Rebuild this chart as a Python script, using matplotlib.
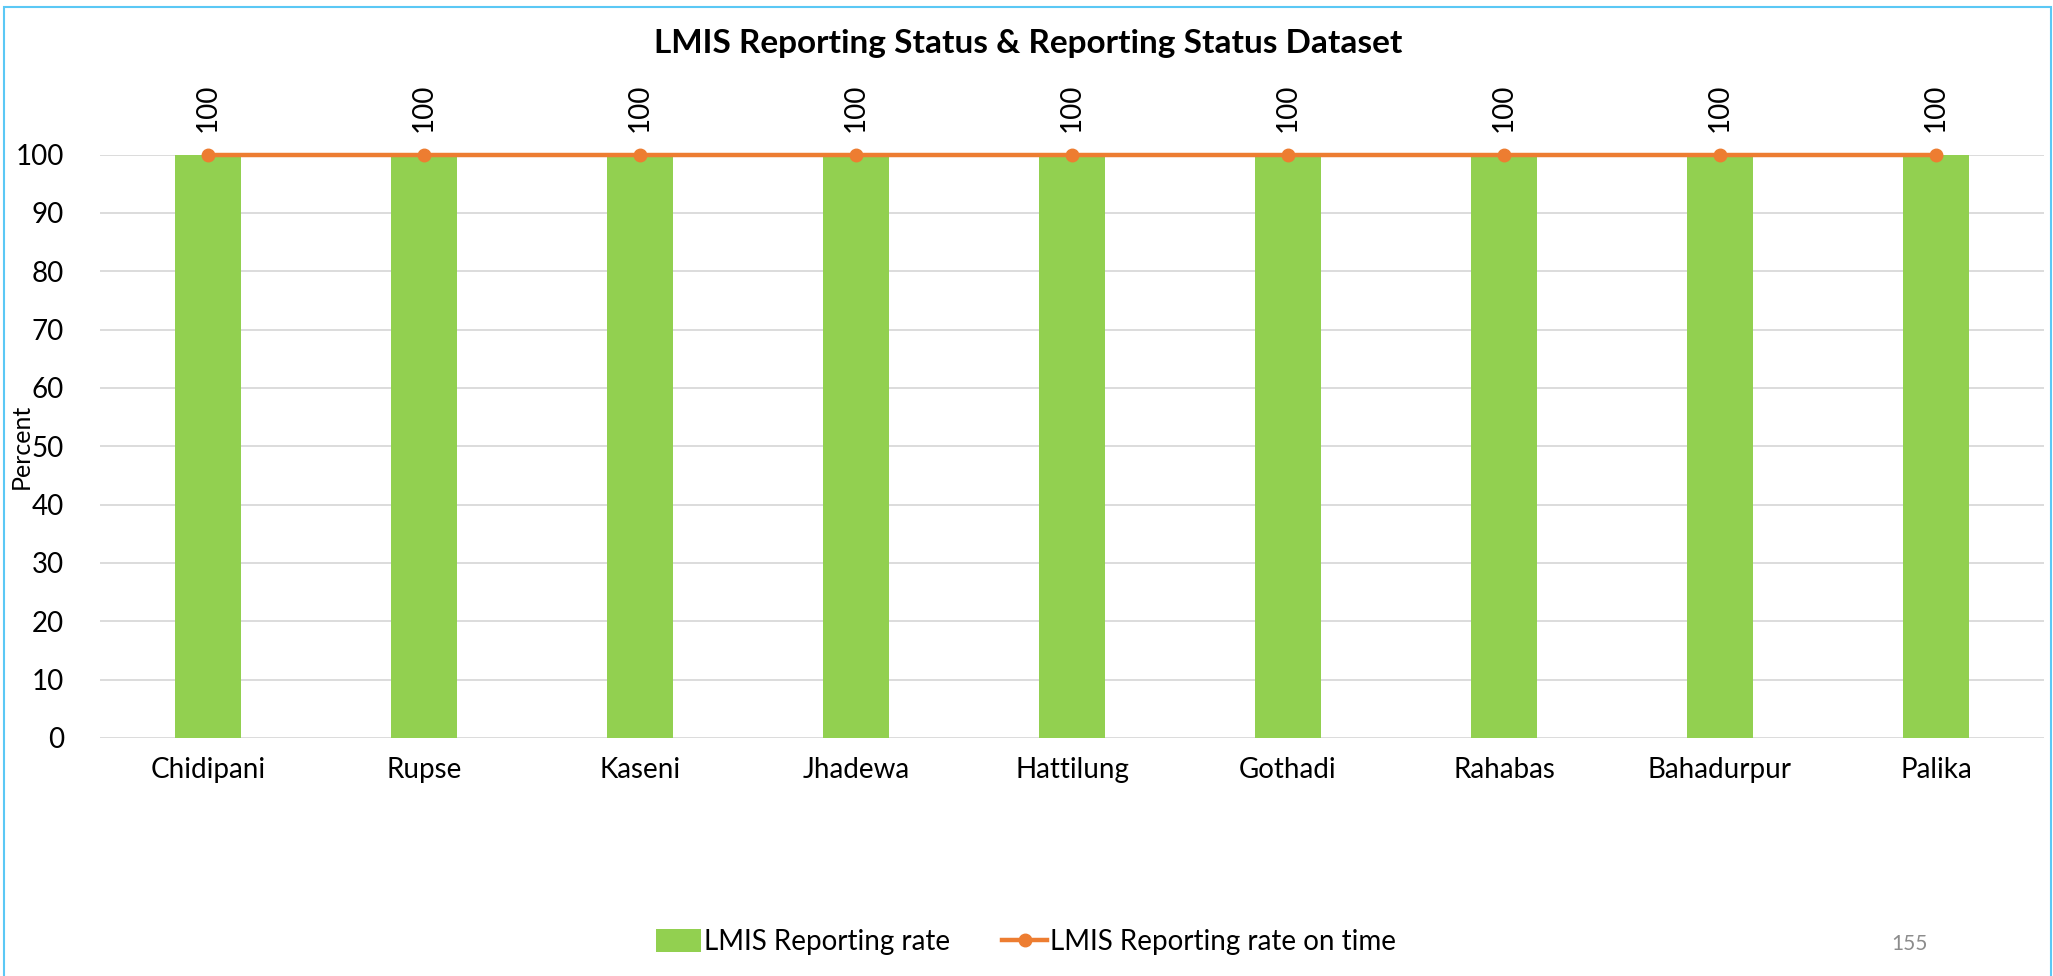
import numpy as np
import matplotlib.pyplot as plt
from matplotlib.patches import Rectangle

# data
places = ['Chidipani', 'Rupse', 'Kaseni', 'Jhadewa', 'Hattilung',
          'Gothadi', 'Rahabas', 'Bahadurpur', 'Palika']
reporting_rate = [100, 100, 100, 100, 100, 100, 100, 100, 100]
on_time_rate = [100, 100, 100, 100, 100, 100, 100, 100, 100]
yticks = [0, 10, 20, 30, 40, 50, 60, 70, 80, 90, 100]

plt.rcParams['font.family'] = ['Lato', 'DejaVu Sans']

fig = plt.figure(figsize=(20.53, 9.76), dpi=100)
ax = fig.add_axes([100/2053, 1-738/976, (2044-100)/2053, (738-154.5)/976])

x = np.arange(len(places))
bars = ax.bar(x, reporting_rate, width=0.31, color='#92d050', zorder=2,
              label='LMIS Reporting rate')
line, = ax.plot(x, on_time_rate, color='#ed7d31', lw=3.2, marker='o', ms=9,
                zorder=3, clip_on=False, label='LMIS Reporting rate on time')

for xi, v in zip(x, on_time_rate):
    ax.annotate(str(v), (xi, v), xytext=(0, 16), textcoords='offset points',
                rotation=90, ha='center', va='bottom', fontsize=20)

ax.set_xlim(-0.5, len(places)-0.5)
ax.set_ylim(0, 100)
ax.set_yticks(yticks)
ax.set_xticks(x)
ax.set_xticklabels(places)
ax.tick_params(axis='both', length=0, labelsize=20)
ax.tick_params(axis='x', pad=14)
ax.tick_params(axis='y', pad=26)
ax.grid(axis='y', color='#d9d9d9', lw=1.3, zorder=0)
for s in ax.spines.values():
    s.set_visible(False)
ax.set_ylabel('Percent', fontsize=18)
ax.yaxis.set_label_coords(-0.0345, 0.5)

fig.text(1028/2053, 1-43/976, 'LMIS Reporting Status & Reporting Status Dataset',
         ha='center', va='center', fontsize=24, fontweight='bold')

ax.legend([bars, line], ['LMIS Reporting rate', 'LMIS Reporting rate on time'],
          loc='center', bbox_to_anchor=(1026/2053, 1-942/976),
          bbox_transform=fig.transFigure, ncol=2, frameon=False,
          fontsize=20, handlelength=1.6, handleheight=0.9,
          handletextpad=0.1, columnspacing=1.9)

fig.text(1909/2053, 1-944/976, '155', ha='center', va='center',
         fontsize=15, color='#8c8c8c')

fig.patches.append(Rectangle((4/2053, -0.02), 2047/2053, 1.02-7.5/976,
                             transform=fig.transFigure, fill=False,
                             edgecolor='#5bc8f5', lw=1.5))

fig.savefig('out.png', dpi=100)
